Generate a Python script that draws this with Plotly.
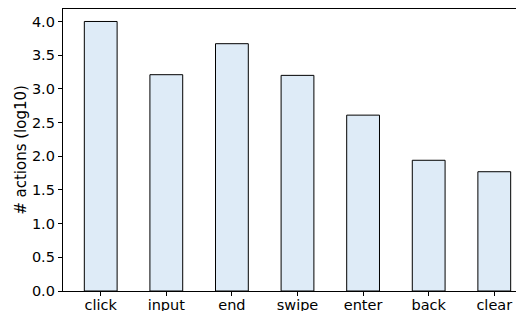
import plotly.graph_objects as go

categories = ["click", "input", "end", "swipe", "enter", "back", "clear"]
values = [4.00, 3.21, 3.67, 3.20, 2.61, 1.94, 1.77]
y_ticks = [0.0, 0.5, 1.0, 1.5, 2.0, 2.5, 3.0, 3.5, 4.0]
y_tick_labels = ["0.0", "0.5", "1.0", "1.5", "2.0", "2.5", "3.0", "3.5", "4.0"]

x_idx = list(range(len(categories)))

fig = go.Figure(go.Bar(
    x=x_idx, y=values, width=0.5,
    marker=dict(color="#deebf7", line=dict(color="black", width=1)),
))

# page body has an 8px default margin; layout compensates for it
fig.update_layout(
    width=524, height=311,
    margin=dict(l=55, r=0, t=1, b=28, pad=0),
    plot_bgcolor="white", paper_bgcolor="white",
    font=dict(family="DejaVu Sans", size=14.5, color="black"),
    showlegend=False,
)
fig.update_xaxes(
    range=[-0.575, 6.575], tickvals=x_idx, ticktext=categories,
    showline=True, linecolor="black", linewidth=1.3, mirror=True,
    ticks="outside", ticklen=4, tickcolor="black", showgrid=False, zeroline=False,
    automargin=False, ticklabelstandoff=-4,
)
fig.update_yaxes(
    range=[0, 4.185], tickvals=y_ticks, ticktext=y_tick_labels,
    showline=True, linecolor="black", linewidth=1.3,
    ticks="outside", ticklen=4, tickcolor="black", showgrid=False, zeroline=False,
    automargin=False,
    title=dict(text="# actions (log10)", font=dict(size=15), standoff=1),
)

fig.write_html("out.html")
